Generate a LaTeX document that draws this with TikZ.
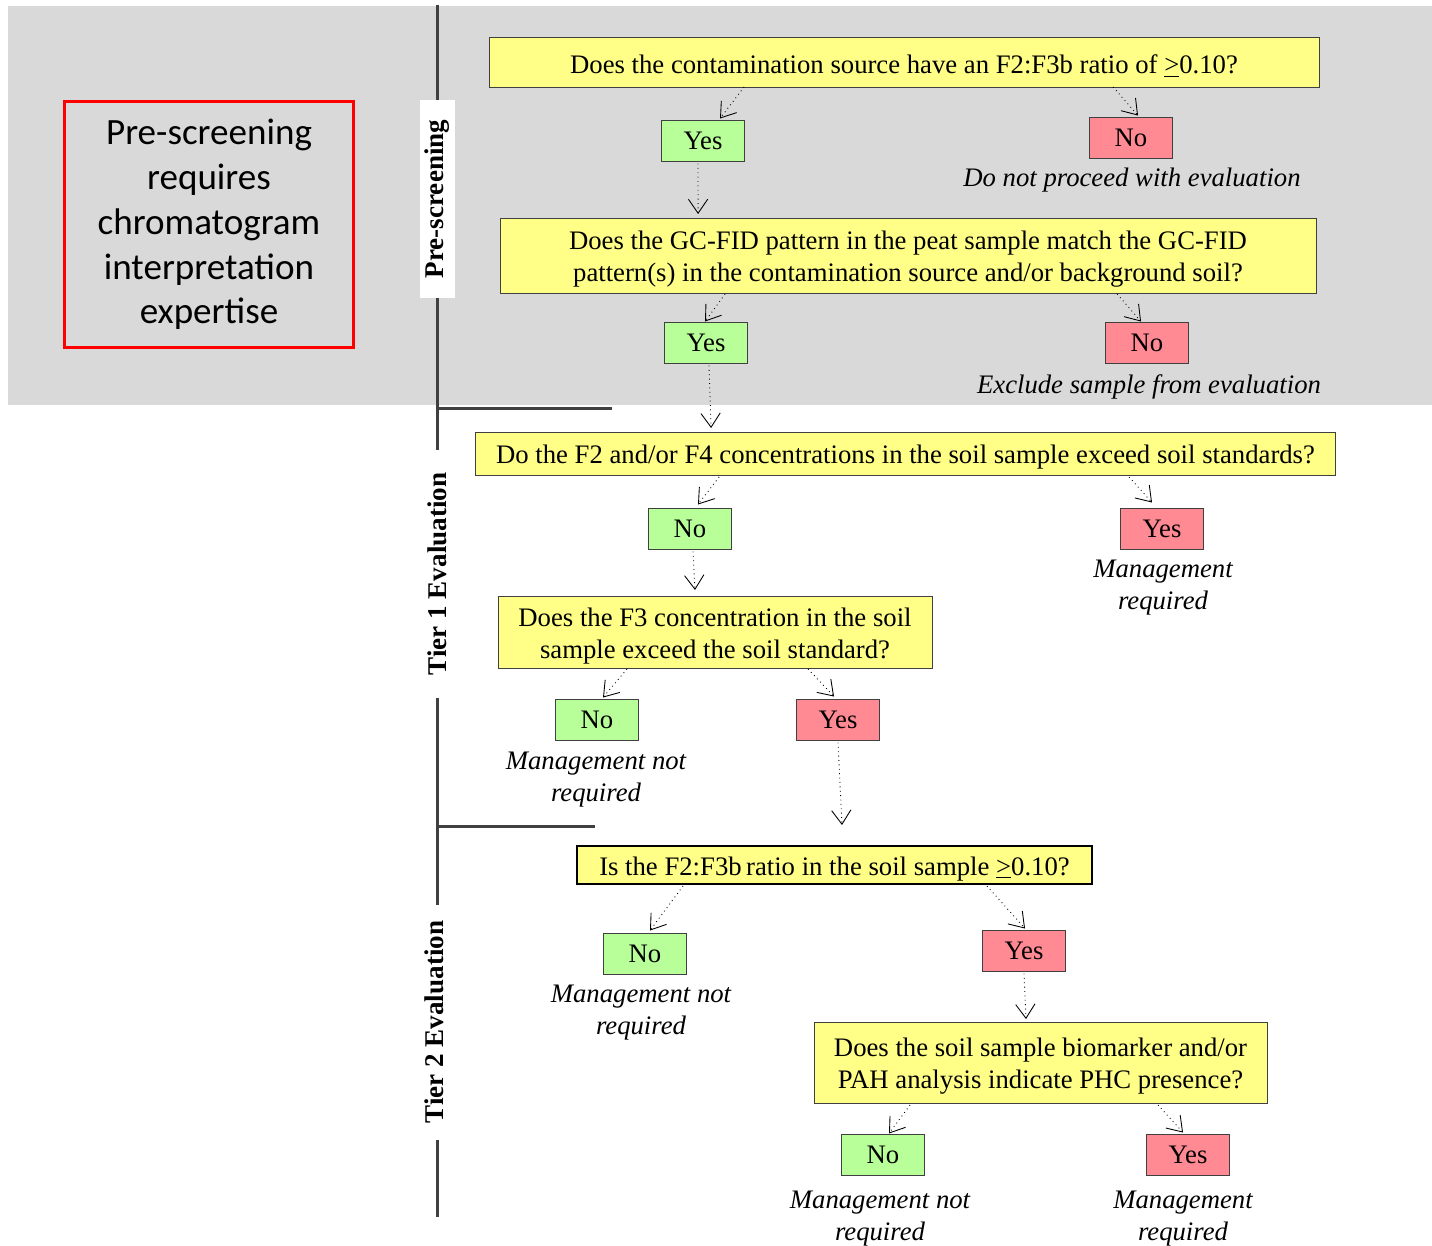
\documentclass[tikz,border=0pt]{standalone}
\usepackage{fontspec}
\setmainfont{Liberation Serif}
\newfontfamily\calib{Carlito}
\usetikzlibrary{calc,arrows.meta}
\definecolor{qyellow}{RGB}{255,255,136}
\definecolor{ansgreen}{RGB}{185,255,153}
\definecolor{anspink}{RGB}{255,138,148}
\definecolor{bggray}{RGB}{217,217,217}
\definecolor{bargray}{RGB}{64,64,64}
\newcommand{\qs}{\rule{0pt}{15pt}}

\begin{document}
\begin{tikzpicture}[x=0.02cm,y=-0.02cm,
    every node/.style={font=\fontsize{15.2}{18.2}\selectfont, inner sep=0pt, outer sep=0pt},
    question/.style={draw=black!75, line width=0.5pt, fill=qyellow, align=center},
    yesno/.style={draw=black!75, line width=0.5pt, minimum width=1.66cm, minimum height=0.82cm},
    okbox/.style={yesno, fill=ansgreen},
    badbox/.style={yesno, fill=anspink},
    remark/.style={align=center, font=\fontsize{15.2}{18.2}\selectfont\itshape},
    tier/.style={rotate=90, fill=white, font=\fontsize{15.4}{18}\selectfont\bfseries},
    bar/.style={color=bargray, line width=1.7pt},
    flow/.style={dotted, line width=0.5pt, -{Straight Barb[length=8pt,width=11pt]}}]
    \useasboundingbox (0,0) rectangle (1432,1245);
    \fill[bggray] (8,6) rectangle (1432,405);

    % left hand side
    \node[draw=red, line width=1.7pt, minimum width=5.8cm, minimum height=4.94cm, align=center,
          font=\calib\fontsize{21.1}{25.5}\selectfont] (expert) at (209,224.5)
          {Pre-screening\\requires\\chromatogram\\interpretation\\expertise};
    \draw[bar] (437,5) -- (437,1217);
    \draw[bar] (437,408) -- (612,408);
    \draw[bar] (437,826) -- (595,826);
    \node[tier, minimum width=3.96cm, minimum height=0.7cm] (pre) at (437,199) {Pre-screening};
    \node[tier, minimum width=4.96cm, minimum height=0.7cm] (tierone) at (437,574) {Tier 1 Evaluation};
    \node[tier, minimum width=4.7cm, minimum height=0.7cm] (tiertwo) at (434,1022) {Tier 2 Evaluation};

    % pre-screening
    \node[question, minimum width=16.6cm, minimum height=1cm] (q1) at (904,62)
          {\qs Does the contamination source have an F2:F3b ratio of \underline{>}0.10?};
    \node[okbox] (yes1) at (703,141) {Yes};
    \node[badbox] (no1) at (1131,138) {No};
    \node[remark] (rem1) at (1132,180) {Do not proceed with evaluation};
    \node[question, minimum width=16.32cm, minimum height=1.5cm] (q2) at (908,255.5)
          {\qs Does the GC-FID pattern in the peat sample match the GC-FID\\pattern(s) in the contamination source and/or background soil?};
    \node[okbox] (yes2) at (706,343) {Yes};
    \node[badbox] (no2) at (1147,343) {No};
    \node[remark] (rem2) at (1149,387) {Exclude sample from evaluation};

    % tier 1
    \node[question, minimum width=17.22cm, minimum height=0.86cm] (q3) at (905.5,453.5)
          {\qs Do the F2 and/or F4 concentrations in the soil sample exceed soil standards?};
    \node[okbox] (no3) at (690,529) {No};
    \node[badbox] (yes3) at (1162,529) {Yes};
    \node[remark] (rem3) at (1163,588) {Management\\required};
    \node[question, minimum width=8.68cm, minimum height=1.44cm] (q4) at (715,632)
          {\qs Does the F3 concentration in the soil\\sample exceed the soil standard?};
    \node[okbox] (no4) at (597,720) {No};
    \node[badbox] (yes4) at (838,720) {Yes};
    \node[remark] (rem4) at (596,780) {Management not\\required};

    % tier 2
    \node[question, draw=black, line width=1.2pt, minimum width=10.3cm, minimum height=0.76cm] (q5) at (834.5,865)
          {\qs Is the F2:F3b\,ratio in the soil sample \underline{>}0.10?};
    \node[okbox] (no5) at (645,954) {No};
    \node[remark] (rem5) at (641,1013) {Management not\\required};
    \node[badbox] (yes5) at (1024,951) {Yes};
    \node[question, minimum width=9.06cm, minimum height=1.62cm] (q6) at (1040.5,1062.5)
          {\qs Does the soil sample biomarker and/or\\PAH analysis indicate PHC presence?};
    \node[okbox] (no6) at (883,1155) {No};
    \node[remark] (rem6) at (880,1219) {Management not\\required};
    \node[badbox] (yes6) at (1188,1155) {Yes};
    \node[remark] (rem7) at (1183,1219) {Management\\required};

    % arrows
    \draw[flow] ($(q1.south west)+(255,0)$) -- ($(yes1.north)+(17,-2)$);
    \draw[flow] ($(q1.south west)+(624,0)$) -- ($(no1.north)+(7,-2)$);
    \draw[flow] ($(yes1.south)+(-5,2)$) -- ($(q2.north west)+(198,-4)$);
    \draw[flow] ($(q2.south west)+(225,1)$) -- ($(yes2.north)+(-1,-1)$);
    \draw[flow] ($(q2.south west)+(617,1)$) -- ($(no2.north)+(-6,-1)$);
    \draw[flow] ($(yes2.south)+(3,2)$) -- ($(q3.north west)+(236,-4)$);
    \draw[flow] ($(q3.south west)+(244,2)$) -- ($(no3.north)+(8,-4)$);
    \draw[flow] ($(q3.south west)+(654,2)$) -- ($(yes3.north)+(-10,-6)$);
    \draw[flow] ($(no3.south)+(3,2)$) -- ($(q4.north)+(-20,-6)$);
    \draw[flow] ($(q4.south)+(-88,1)$) -- ($(no4.north)+(6,-2)$);
    \draw[flow] ($(q4.south)+(93,1)$) -- ($(yes4.north)+(-4,-3)$);
    \draw[flow] ($(yes4.south)+(0,2)$) -- ($(q5.north)+(7.5,-21)$);
    \draw[flow] ($(q5.south)+(-151.5,2)$) -- ($(no5.north)+(5,-3)$);
    \draw[flow] ($(q5.south)+(152.5,2)$) -- ($(yes5.north)+(1,-2)$);
    \draw[flow] ($(yes5.south)+(0,2)$) -- ($(q6.north)+(-14.5,-3)$);
    \draw[flow] ($(q6.south)+(-130.5,2)$) -- ($(no6.north)+(6,-1)$);
    \draw[flow] ($(q6.south)+(117.5,2)$) -- ($(yes6.north)+(-5,-2)$);
\end{tikzpicture}
\end{document}
